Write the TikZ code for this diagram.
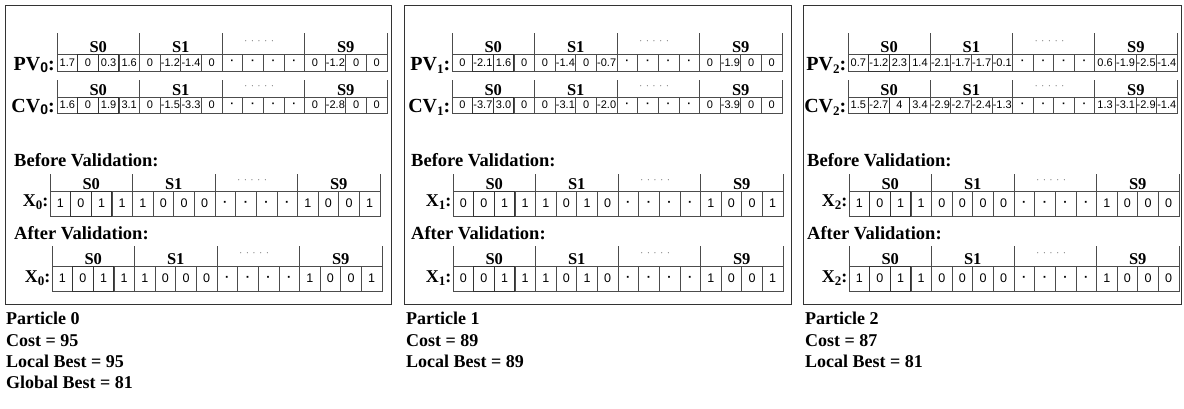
\documentclass[tikz,border=0pt]{standalone}
\usepackage{fontspec}
\setmainfont{Liberation Serif}
\setsansfont{Liberation Sans}

\tikzset{
  x=1pt, y=-1pt,
  frame/.style={draw=black!80, line width=1.3pt},
  cellbox/.style={draw=black!70, line width=0.7pt, inner sep=0pt, outer sep=0pt, anchor=north west},
  cellthick/.style={draw=black!80, line width=1pt},
  tick/.style={draw=black!70, line width=0.7pt},
  seclabel/.style={font=\fontsize{16.5}{16.5}\selectfont\rmfamily\bfseries, inner sep=0pt, anchor=base},
  dotlabel/.style={text=black!55, font=\fontsize{10}{10}\selectfont\rmfamily, inner sep=0pt},
  rowlabel/.style={font=\fontsize{20}{20}\selectfont\rmfamily\bfseries, inner sep=0pt, anchor=base east},
  xlabel/.style={font=\fontsize{18}{18}\selectfont\rmfamily\bfseries, inner sep=0pt, anchor=base east},
  heading/.style={font=\fontsize{18.5}{18.5}\selectfont\rmfamily\bfseries, inner sep=0pt, anchor=base west},
  info/.style={font=\fontsize{18}{18}\selectfont\rmfamily\bfseries, inner sep=0pt, anchor=base west},
}

% lowered index after a row name
\newcommand\lowsub[2][-3.5pt]{\raisebox{#1}{\fontsize{13}{13}\selectfont #2}}
\newcommand\sanssub[1]{\raisebox{-2.5pt}{\fontsize{14}{14}\selectfont\sffamily\bfseries #1}}

% one row of 16 cells with its section header
% #1 name, #2 left x, #3 right x, #4 tick top y, #5 cell top y, #6 cell bottom y,
% #7 font size, #8 cell values
\newcommand\cellrow[8]{%
  \pgfmathsetmacro\cw{(#3-#2)/16}%
  \pgfmathsetmacro\ch{#6-#5}%
  \foreach \v [count=\i from 0] in {#8}{
    \node[cellbox, minimum width=\cw pt, minimum height=\ch pt,
          font=\fontsize{#7}{#7}\selectfont\sffamily] (#1-\i) at ({#2+\i*\cw},#5) {\v};
  }
  \draw[cellthick] (#1-1.north west) rectangle (#1-1.south east);
  \draw[cellthick] (#1-2.north west) rectangle (#1-2.south east);
  \foreach \j in {0,4,8,12}{
    \draw[tick] (#1-\j.north west) -- ++(0,{#4-#5});
  }
  \draw[tick] (#1-15.north east) -- ++(0,{#4-#5});
  \node[seclabel] (#1-s0) at ({#2+2*\cw},{#5-2}) {S0};
  \node[seclabel] (#1-s1) at ({#2+6*\cw},{#5-2}) {S1};
  \node[dotlabel] (#1-sd) at ({#2+9.8*\cw},{#4+(#5-#4)*0.45}) {·\,\,·\,\,·\,\,·\,\,·};
  \node[seclabel] (#1-s9) at ({#2+14*\cw},{#5-2}) {S9};
}

\newcommand\dotc{\textbf{·}}

\begin{document}
\begin{tikzpicture}
\useasboundingbox (0,0) rectangle (1184,408);

% ---------------- Particle 0 ----------------
\node[frame, inner sep=0pt, minimum width=386pt, minimum height=299pt, anchor=north west] (box0) at (5,5) {};
\cellrow{pv0}{57}{387}{33}{54}{71}{11}{1.7,0,0.3,1.6,0,-1.2,-1.4,0,\dotc,\dotc,\dotc,\dotc,0,-1.2,0,0}
\node[rowlabel] (pv0-l) at (55,70) {PV\sanssub{0}:};
\cellrow{cv0}{57}{387}{80}{97}{113}{11}{1.6,0,1.9,3.1,0,-1.5,-3.3,0,\dotc,\dotc,\dotc,\dotc,0,-2.8,0,0}
\node[rowlabel] (cv0-l) at (55,112) {CV\sanssub{0}:};
\node[heading] (bv0) at (14,166) {Before Validation:};
\cellrow{xb0}{50}{380}{174}{191}{216}{12.5}{1,0,1,1,1,0,0,0,\dotc,\dotc,\dotc,\dotc,1,0,0,1}
\node[xlabel] (xb0-l) at (48.5,206) {X\lowsub{0}:};
\node[heading] (av0) at (14,239) {After Validation:};
\cellrow{xa0}{52}{382}{246}{266}{291}{12.5}{1,0,1,1,1,0,0,0,\dotc,\dotc,\dotc,\dotc,1,0,0,1}
\node[xlabel] (xa0-l) at (50.5,282) {X\lowsub{0}:};
\node[info] (p0a) at (6,324) {Particle 0};
\node[info] (p0b) at (6,346) {Cost = 95};
\node[info] (p0c) at (6,367) {Local Best = 95};
\node[info] (p0d) at (6,388) {Global Best = 81};

% ---------------- Particle 1 ----------------
\node[frame, inner sep=0pt, minimum width=387pt, minimum height=299pt, anchor=north west] (box1) at (404,5) {};
\cellrow{pv1}{452}{782}{33}{54}{71}{11}{0,-2.1,1.6,0,0,-1.4,0,-0.7,\dotc,\dotc,\dotc,\dotc,0,-1.9,0,0}
\node[rowlabel] (pv1-l) at (450.5,70) {PV\lowsub{1}:};
\cellrow{cv1}{452}{782}{80}{97}{113}{11}{0,-3.7,3.0,0,0,-3.1,0,-2.0,\dotc,\dotc,\dotc,\dotc,0,-3.9,0,0}
\node[rowlabel] (cv1-l) at (450.5,112) {CV\lowsub{1}:};
\node[heading] (bv1) at (411,166) {Before Validation:};
\cellrow{xb1}{453}{783}{174}{191}{216}{12.5}{0,0,1,1,1,0,1,0,\dotc,\dotc,\dotc,\dotc,1,0,0,1}
\node[xlabel] (xb1-l) at (451.5,206) {X\lowsub{1}:};
\node[heading] (av1) at (411,239) {After Validation:};
\cellrow{xa1}{453}{783}{246}{266}{291}{12.5}{0,0,1,1,1,0,1,0,\dotc,\dotc,\dotc,\dotc,1,0,0,1}
\node[xlabel] (xa1-l) at (451.5,282) {X\lowsub{1}:};
\node[info] (p1a) at (406,324) {Particle 1};
\node[info] (p1b) at (406,346) {Cost = 89};
\node[info] (p1c) at (406,367) {Local Best = 89};

% ---------------- Particle 2 ----------------
\node[frame, inner sep=0pt, minimum width=378pt, minimum height=299pt, anchor=north west] (box2) at (803,5) {};
\cellrow{pv2}{848}{1177}{33}{54}{71}{11}{0.7,-1.2,2.3,1.4,-2.1,-1.7,-1.7,-0.1,\dotc,\dotc,\dotc,\dotc,0.6,-1.9,-2.5,-1.4}
\node[rowlabel] (pv2-l) at (846.5,70) {PV\lowsub{2}:};
\cellrow{cv2}{848}{1177}{80}{97}{113}{11}{1.5,-2.7,4,3.4,-2.9,-2.7,-2.4,-1.3,\dotc,\dotc,\dotc,\dotc,1.3,-3.1,-2.9,-1.4}
\node[rowlabel] (cv2-l) at (846.5,112) {CV\lowsub{2}:};
\node[heading] (bv2) at (807,166) {Before Validation:};
\cellrow{xb2}{849}{1179}{174}{191}{216}{12.5}{1,0,1,1,0,0,0,0,\dotc,\dotc,\dotc,\dotc,1,0,0,0}
\node[xlabel] (xb2-l) at (847.5,206) {X\lowsub{2}:};
\node[heading] (av2) at (807,239) {After Validation:};
\cellrow{xa2}{849}{1179}{246}{266}{291}{12.5}{1,0,1,1,0,0,0,0,\dotc,\dotc,\dotc,\dotc,1,0,0,0}
\node[xlabel] (xa2-l) at (847.5,282) {X\lowsub{2}:};
\node[info] (p2a) at (805,324) {Particle 2};
\node[info] (p2b) at (805,346) {Cost = 87};
\node[info] (p2c) at (805,367) {Local Best = 81};
\end{tikzpicture}
\end{document}
